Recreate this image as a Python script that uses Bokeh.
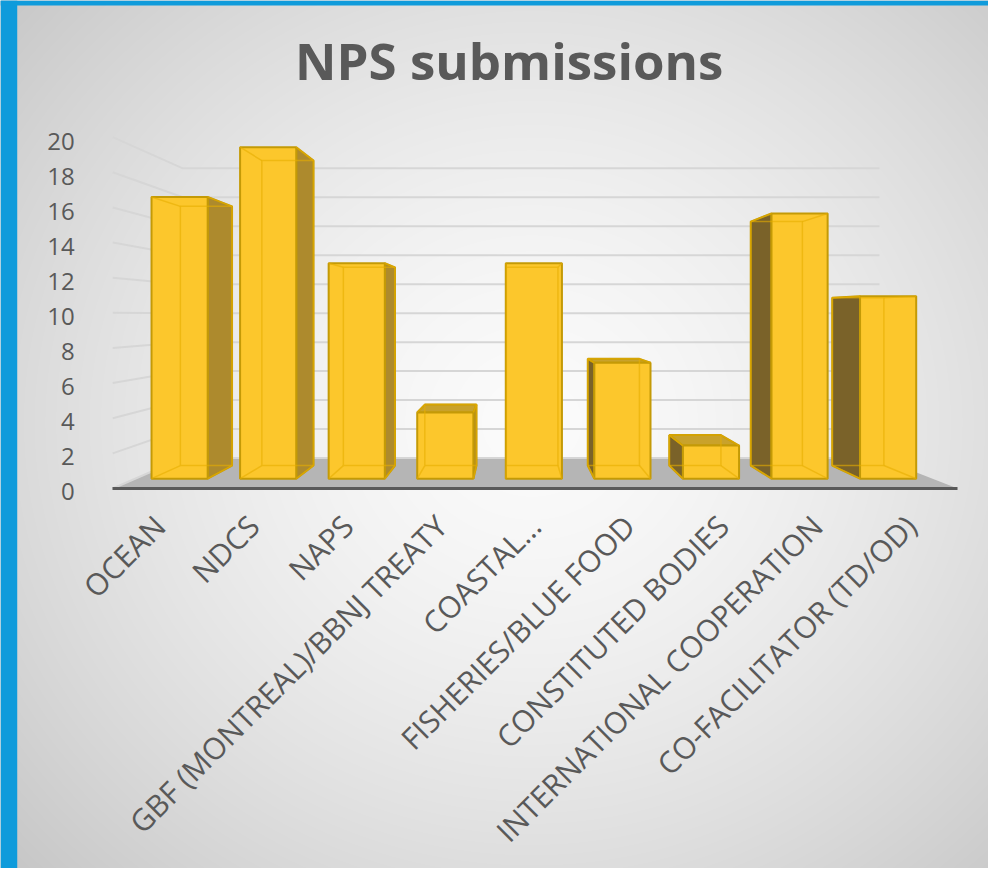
import numpy as np
from math import pi
from bokeh.plotting import figure
from bokeh.models import Range1d, LinearAxis, FixedTicker, Label, BoxAnnotation
from bokeh.embed import file_html
from bokeh.resources import INLINE

# ---------------- data ----------------
categories = ["OCEAN", "NDCS", "NAPS", "GBF (MONTREAL)/BBNJ TREATY", "COASTAL\u2026",
              "FISHERIES/BLUE FOOD", "CONSTITUTED BODIES",
              "INTERNATIONAL COOPERATION", "CO-FACILITATOR (TD/OD)"]
values = [17, 20, 13, 4, 13, 7, 2, 16, 11]
y_ticks = [0, 2, 4, 6, 8, 10, 12, 14, 16, 18, 20]
title_text = "NPS submissions"

# ---------------- geometry (layout only, in reference pixels 1004x884) ----------------
REF_W, REF_H = 1004, 884
W, H = 988, 868                 # figure size (fits the window with its 8px margin)
PX_X0, PX_DX = 182.0, 90.0      # pixel of category 0 centre / category spacing
PX_Y0, PX_DY = 487.0, 16.88     # pixel of value 0 / pixels per unit (bar front plane)
LAB_Y0, LAB_DY = 500.5, 17.85   # pixel of tick label "0" / pixels per unit at front edge


def X(px):
    return (px - PX_X0) / PX_DX


def Y(py):
    return (PX_Y0 - py) / PX_DY


VX, VY = X(520), Y(320)                     # vanishing point of the 3-D view
K_FRONT, K_BAR_BACK, K_WALL = 1.06, 0.92, 0.874
HALF_W = 0.317
X_LO, X_HI = -0.5, len(categories) - 0.5


def proj(x, y, k):
    return VX + (x - VX) * k, VY + (y - VY) * k


xs, xe = X(0), X(REF_W)
ys, ye = Y(REF_H), Y(0)

p = figure(width=W, height=H, x_range=Range1d(xs, xe), y_range=Range1d(ys, ye),
           output_backend="svg", toolbar_location=None, min_border=0,
           x_axis_location=None, y_axis_location=None, outline_line_color=None,
           border_fill_color="#d4d4d4", background_fill_color="#d4d4d4")
p.grid.visible = False

p.extra_x_ranges = {"front": Range1d(VX + (xs - VX) / K_FRONT, VX + (xe - VX) / K_FRONT)}
p.extra_y_ranges = {"labels": Range1d((LAB_Y0 - REF_H) / LAB_DY, LAB_Y0 / LAB_DY)}

# ---------------- background radial gradient ----------------
gx = np.linspace(0, REF_W, W)[None, :]
gy = np.linspace(0, REF_H, H)[::-1][:, None]
d = np.sqrt(((gx - 540) / 600.0) ** 2 + ((gy - 430) / 560.0) ** 2)
g = np.clip(251 - 40 * d ** 1.5, 0, 255).astype(np.uint8)
img = np.empty((H, W), dtype=np.uint32)
view = img.view(dtype=np.uint8).reshape((H, W, 4))
view[:, :, 0] = g
view[:, :, 1] = g
view[:, :, 2] = g
view[:, :, 3] = 255
p.image_rgba(image=[img], x=xs, y=ys, dw=xe - xs, dh=ye - ys)

# ---------------- floor ----------------
fl = [proj(X_LO, 0, K_FRONT), proj(X_HI, 0, K_FRONT), proj(X_HI, 0, K_WALL), proj(X_LO, 0, K_WALL)]
p.patch([a for a, b in fl], [b for a, b in fl], fill_color="#b5b5b5", line_color=None)

# ---------------- gridlines: side wall + back wall ----------------
gl_x, gl_y = [], []
for t in y_ticks:
    fx, fy = proj(X_LO, t, K_FRONT)
    bx, by = proj(X_LO, t, K_WALL)
    rx, ry = proj(X_HI, t, K_WALL)
    gl_x.append([fx, bx, rx])
    gl_y.append([fy, by, ry])
p.multi_line(gl_x, gl_y, line_color="#d6d6d6", line_width=2)

# ---------------- 3-D bars ----------------
side_x, side_y, side_c = [], [], []
edge_x, edge_y = [], []
lefts, rights, tops, bottoms = [], [], [], []
for i, v in enumerate(values):
    L, R, B, T = i - HALF_W, i + HALF_W, 0.0, float(v)
    lefts.append(L); rights.append(R); bottoms.append(B); tops.append(T)
    bl, br, tr, tl = proj(L, B, K_BAR_BACK), proj(R, B, K_BAR_BACK), proj(R, T, K_BAR_BACK), proj(L, T, K_BAR_BACK)
    if R < VX:   # right side visible
        side_x.append([R, R, tr[0], br[0]]); side_y.append([B, T, tr[1], br[1]]); side_c.append("#ad8a2d")
    if L > VX:   # left side visible
        side_x.append([L, L, tl[0], bl[0]]); side_y.append([B, T, tl[1], bl[1]]); side_c.append("#7a6229")
    if T < VY:   # top visible
        side_x.append([L, R, tr[0], tl[0]]); side_y.append([T, T, tr[1], tl[1]]); side_c.append("#c9a22b")
    # hidden (back) edges seen through the translucent bar
    edge_x.append([bl[0], br[0], tr[0], tl[0], bl[0]]); edge_y.append([bl[1], br[1], tr[1], tl[1], bl[1]])
    for (fx, fy), (bx, by) in (((L, B), bl), ((R, B), br), ((L, T), tl), ((R, T), tr)):
        edge_x.append([fx, bx]); edge_y.append([fy, by])

p.patches(side_x, side_y, fill_color=side_c, line_color="#c49a06", line_width=2)
p.quad(left=lefts, right=rights, bottom=bottoms, top=tops,
       fill_color="#fcc72c", line_color="#c49a06", line_width=2)
p.multi_line(edge_x, edge_y, line_color="#e6ad00", line_width=1.5, line_alpha=0.6)

# ---------------- axes ----------------
xa = LinearAxis(x_range_name="front", fixed_location=proj(0, 0, K_FRONT)[1],
                bounds=(X_LO, X_HI), ticker=FixedTicker(ticks=list(range(len(categories)))),
                major_label_overrides={i: c for i, c in enumerate(categories)},
                major_label_orientation=pi / 4,
                axis_line_color="#595959", axis_line_width=3,
                major_tick_line_color=None, minor_tick_line_color=None,
                major_label_standoff=26, major_label_text_font_size="30px",
                major_label_text_color="#595959", major_label_text_font="Open Sans")
p.add_layout(xa, "below")

ya = LinearAxis(y_range_name="labels", fixed_location=proj(X_LO, 0, K_FRONT)[0],
                ticker=FixedTicker(ticks=y_ticks),
                axis_line_color=None, major_tick_line_color=None, minor_tick_line_color=None,
                major_label_standoff=32, major_label_text_font_size="24px",
                major_label_text_color="#595959", major_label_text_font="Open Sans")
p.add_layout(ya, "left")

# ---------------- frame decorations ----------------
p.add_layout(BoxAnnotation(right=X(17), fill_color="#0f9bdb", fill_alpha=1.0, line_color=None))
p.add_layout(BoxAnnotation(bottom=Y(5), fill_color="#0f9bdb", fill_alpha=1.0, line_color=None))

p.add_layout(Label(x=X(517), y=Y(61), text=title_text, text_align="center",
                   text_baseline="middle", text_font="Open Sans", text_font_style="bold",
                   text_font_size="51px", text_color="#595959"))

open("out.html", "w").write(file_html(p, INLINE))
